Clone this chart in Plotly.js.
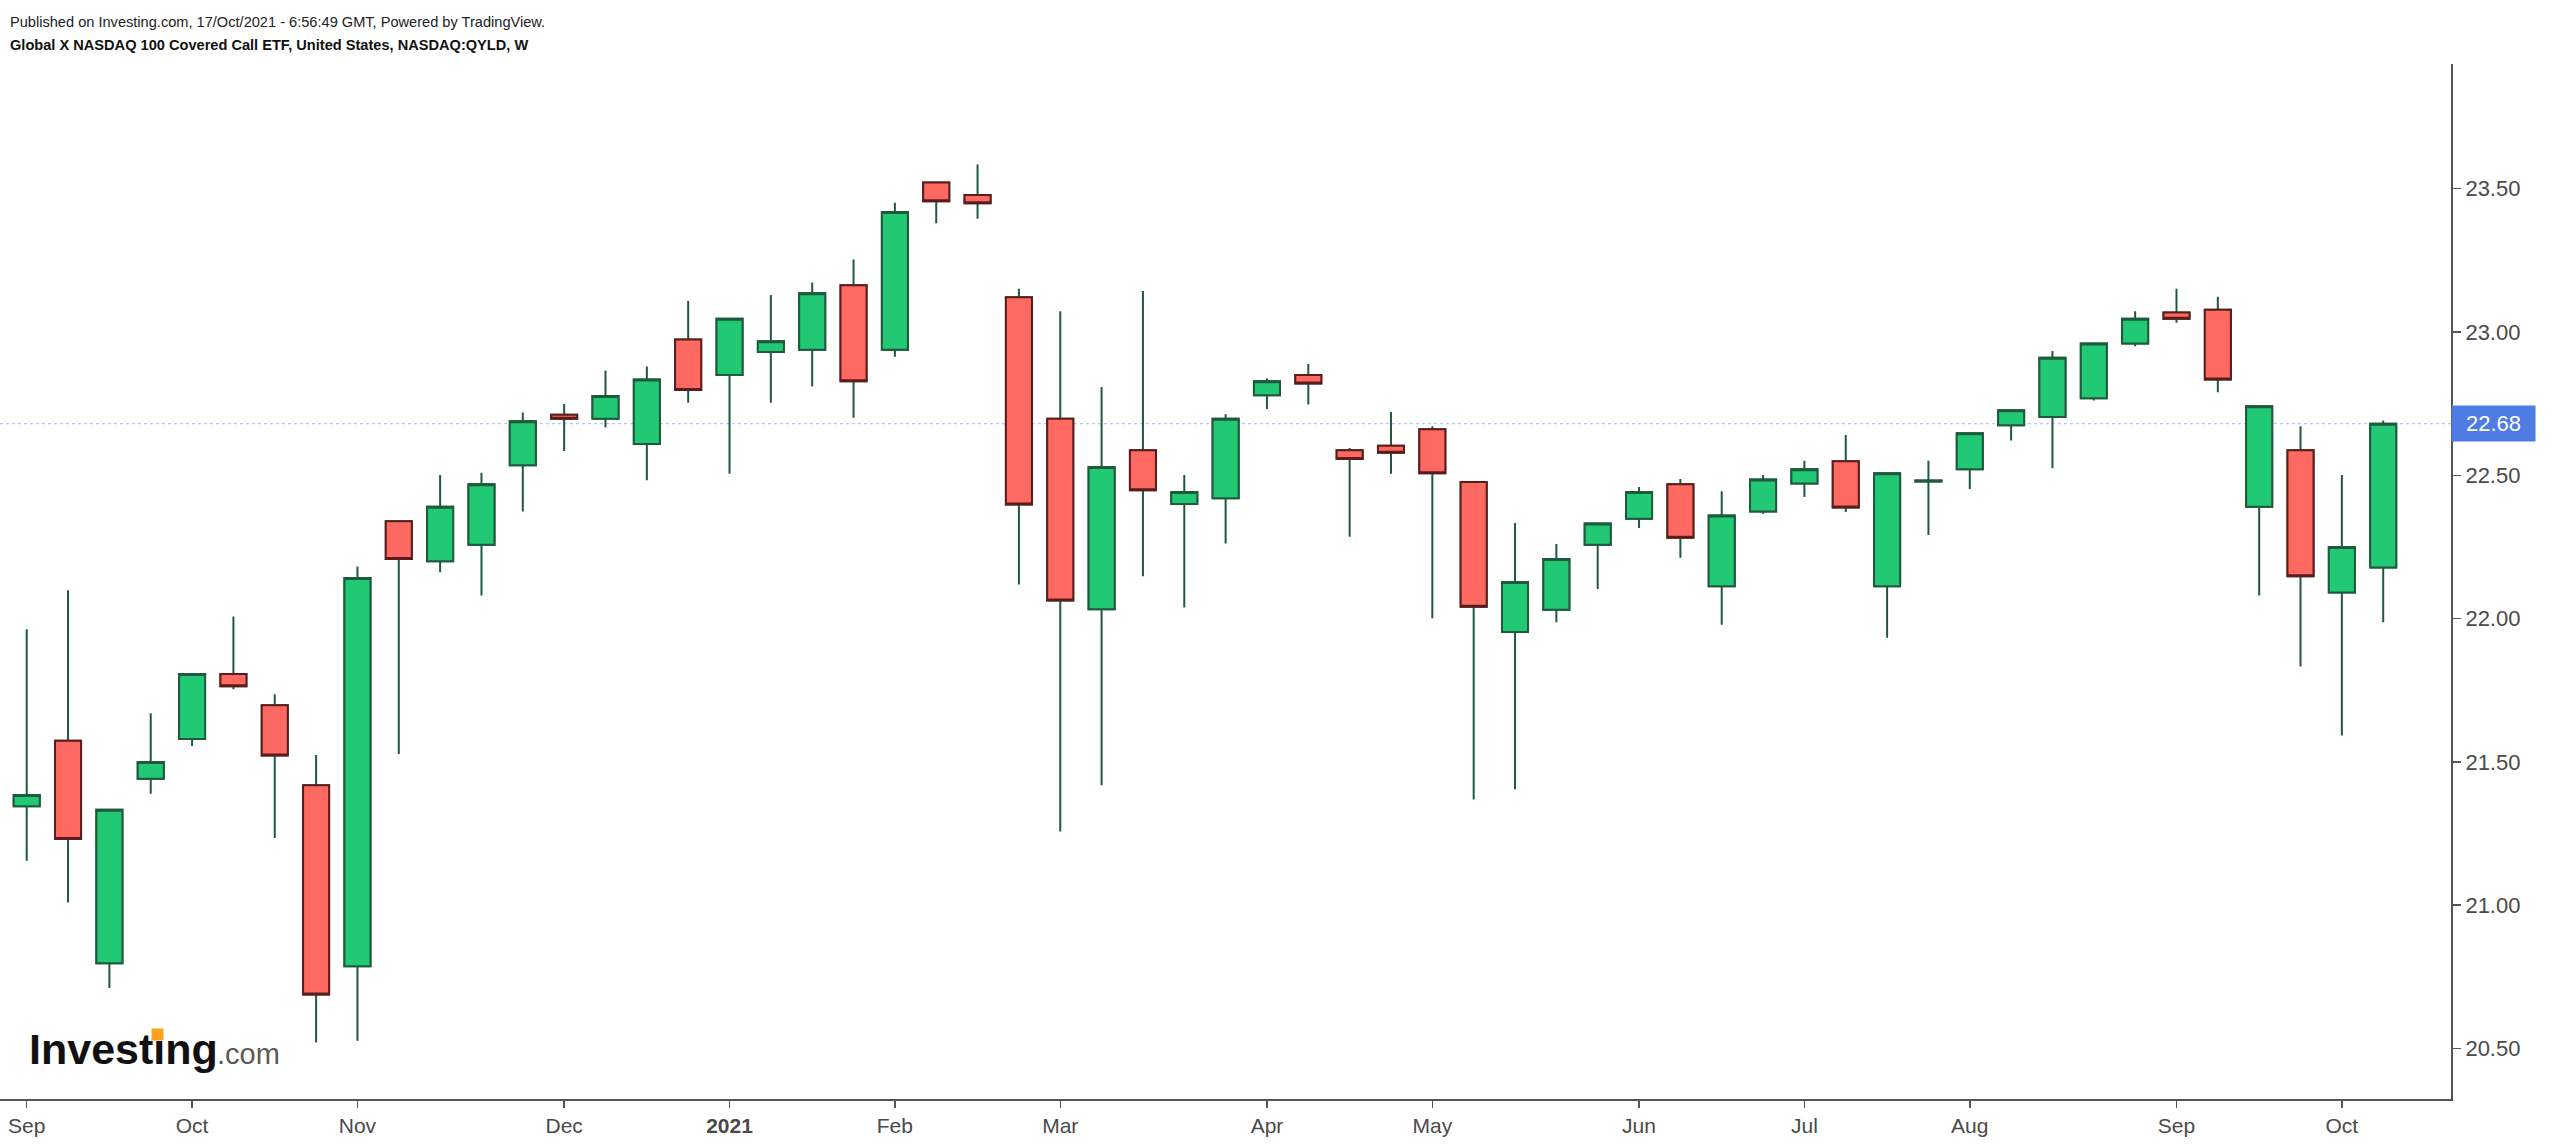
<!DOCTYPE html>
<html><head><meta charset="utf-8">
<script src="https://cdn.plot.ly/plotly-3.0.1.min.js"></script>
<style>html,body{margin:0;padding:0;background:#fff;}#chart{width:2552px;height:1144px;}</style>
</head><body><div id="chart"></div>
<script>
// Weekly candles, Global X NASDAQ 100 Covered Call ETF (QYLD)
const weeks = ['2020-09-07','2020-09-14','2020-09-21','2020-09-28','2020-10-05','2020-10-12','2020-10-19','2020-10-26',
  '2020-11-02','2020-11-09','2020-11-16','2020-11-23','2020-11-30','2020-12-07','2020-12-14','2020-12-21','2020-12-28',
  '2021-01-04','2021-01-11','2021-01-18','2021-01-25','2021-02-01','2021-02-08','2021-02-15','2021-02-22',
  '2021-03-01','2021-03-08','2021-03-15','2021-03-22','2021-03-29','2021-04-05','2021-04-12','2021-04-19','2021-04-26',
  '2021-05-03','2021-05-10','2021-05-17','2021-05-24','2021-05-31','2021-06-07','2021-06-14','2021-06-21','2021-06-28',
  '2021-07-05','2021-07-12','2021-07-19','2021-07-26','2021-08-02','2021-08-09','2021-08-16','2021-08-23','2021-08-30',
  '2021-09-06','2021-09-13','2021-09-20','2021-09-27','2021-10-04','2021-10-11'];
const opens = [21.345,21.574,20.798,21.441,21.580,21.807,21.698,21.419,
  20.787,22.340,22.200,22.258,22.535,22.711,22.697,22.609,22.974,
  22.850,22.930,22.938,23.163,22.938,23.522,23.478,23.121,
  22.697,22.033,22.587,22.400,22.420,22.779,22.850,22.587,22.603,
  22.661,22.477,21.953,22.031,22.258,22.348,22.469,22.113,22.374,
  22.471,22.549,22.113,22.478,22.521,22.675,22.703,22.769,22.960,
  23.068,23.078,22.390,22.587,22.091,22.178];
const highs = [21.963,22.099,21.333,21.670,21.807,22.007,21.736,21.524,
  22.182,22.340,22.501,22.509,22.719,22.749,22.866,22.880,23.108,
  23.046,23.129,23.173,23.253,23.451,23.522,23.584,23.151,
  23.072,22.808,23.143,22.501,22.713,22.838,22.888,22.595,22.721,
  22.671,22.477,22.334,22.260,22.332,22.459,22.487,22.444,22.501,
  22.551,22.641,22.507,22.551,22.647,22.727,22.934,22.960,23.072,
  23.151,23.123,22.741,22.671,22.501,22.691];
const lows = [21.155,21.010,20.711,21.389,21.556,21.754,21.235,20.521,
  20.527,21.528,22.162,22.081,22.374,22.585,22.667,22.483,22.753,
  22.505,22.753,22.810,22.701,22.914,23.379,23.395,22.119,
  21.257,21.419,22.148,22.039,22.262,22.731,22.747,22.286,22.505,
  22.001,21.369,21.405,21.987,22.103,22.316,22.212,21.979,22.366,
  22.424,22.372,21.933,22.292,22.452,22.621,22.525,22.761,22.950,
  23.032,22.790,22.081,21.833,21.592,21.987];
const closes = [21.385,21.231,21.333,21.500,21.807,21.764,21.522,20.689,
  22.142,22.208,22.390,22.469,22.689,22.697,22.777,22.834,22.798,
  23.046,22.968,23.135,22.828,23.419,23.456,23.449,22.398,
  22.063,22.529,22.448,22.442,22.697,22.828,22.820,22.557,22.579,
  22.507,22.041,22.128,22.208,22.332,22.442,22.282,22.360,22.485,
  22.521,22.388,22.507,22.482,22.647,22.727,22.910,22.960,23.046,
  23.046,22.834,22.741,22.148,22.250,22.680];

const tickWeeks = ['2020-09-07','2020-10-05','2020-11-02','2020-12-07','2021-01-04','2021-02-01','2021-03-01',
  '2021-04-05','2021-05-03','2021-06-07','2021-07-05','2021-08-02','2021-09-06','2021-10-04'];
const tickLabels = ['Sep','Oct','Nov','Dec','<b>2021</b>','Feb','Mar','Apr','May','Jun','Jul','Aug','Sep','Oct'];
const priceTicks = [20.5,21.0,21.5,22.0,22.5,23.0,23.5];

const headerLine1 = 'Published on Investing.com, 17/Oct/2021 - 6:56:49 GMT, Powered by TradingView.';
const headerLine2 = 'Global X NASDAQ 100 Covered Call ETF, United States, NASDAQ:QYLD, W';

// ---- layout geometry ----
const W = 2552, H = 1144, ML = 0, MR = 101, MT = 64, MB = 45;
const PW = W - ML - MR, PH = H - MT - MB;
const px = x => (x - ML) / PW;
const py = y => (H - MB - y) / PH;

const FONT = 'Liberation Sans, Arial, sans-serif';
const WICK = '#1f5a3c';
const GREEN = '#22c975', GREEN_LINE = '#1f5a3c';
const RED = '#fe6a62', RED_LINE = '#5e1b1b';

const bodyHigh = opens.map((o, i) => Math.max(o, closes[i]));
const bodyLow = opens.map((o, i) => Math.min(o, closes[i]));
const lastClose = closes[closes.length - 1];

const wickTrace = {
  type: 'candlestick', x: weeks, open: opens, high: highs, low: lows, close: closes,
  increasing: {line: {color: WICK, width: 2}, fillcolor: WICK},
  decreasing: {line: {color: WICK, width: 2}, fillcolor: WICK},
  whiskerwidth: 0, hoverinfo: 'skip', showlegend: false
};
const bodyTrace = {
  type: 'candlestick', x: weeks, open: opens, high: bodyHigh, low: bodyLow, close: closes,
  increasing: {line: {color: GREEN_LINE, width: 2}, fillcolor: GREEN},
  decreasing: {line: {color: RED_LINE, width: 2}, fillcolor: RED},
  whiskerwidth: 0, hoverinfo: 'skip', showlegend: false
};

const layout = {
  width: W, height: H,
  margin: {l: ML, r: MR, t: MT, b: MB, pad: 0},
  paper_bgcolor: '#ffffff', plot_bgcolor: '#ffffff',
  showlegend: false,
  boxgap: 0.37, boxgroupgap: 0,
  font: {family: FONT, color: '#4a4a4a'},
  xaxis: {
    type: 'category', range: [-0.646, 58.64], rangeslider: {visible: false},
    showgrid: false, zeroline: false,
    showline: true, linecolor: '#555555', linewidth: 2,
    ticks: 'outside', ticklen: 7, tickwidth: 1.5, tickcolor: '#555555',
    tickmode: 'array', tickvals: tickWeeks, ticktext: tickLabels,
    tickfont: {family: FONT, size: 21, color: '#4a4a4a'}, fixedrange: true
  },
  yaxis: {
    side: 'right', range: [20.324, 23.935],
    showgrid: false, zeroline: false,
    showline: true, linecolor: '#555555', linewidth: 2,
    ticks: 'outside', ticklen: 8, tickwidth: 1.5, tickcolor: '#555555',
    tickmode: 'array', tickvals: priceTicks, ticktext: priceTicks.map(v => v.toFixed(2)),
    tickfont: {family: FONT, size: 22, color: '#4a4a4a'}, fixedrange: true
  },
  shapes: [{
    type: 'line', xref: 'paper', x0: 0, x1: 1, yref: 'y', y0: lastClose, y1: lastClose,
    line: {color: '#a5bbf0', width: 1, dash: 'dot'}, layer: 'below'
  }],
  annotations: [
    {xref: 'paper', yref: 'y', x: 1, y: lastClose, xanchor: 'left', yanchor: 'middle',
     text: lastClose.toFixed(2), showarrow: false, bgcolor: '#4f7be4', width: 81, height: 33,
     font: {family: FONT, size: 22, color: '#ffffff'}, align: 'center'},
    {xref: 'paper', yref: 'paper', x: px(8), y: py(22), xanchor: 'left', yanchor: 'middle',
     text: headerLine1, showarrow: false, font: {family: FONT, size: 14.6, color: '#222222'}},
    {xref: 'paper', yref: 'paper', x: px(8), y: py(45), xanchor: 'left', yanchor: 'middle',
     text: '<b>' + headerLine2 + '</b>', showarrow: false, font: {family: FONT, size: 14.6, color: '#111111'}},
    {xref: 'paper', yref: 'paper', x: px(27), y: py(1049), xanchor: 'left', yanchor: 'middle',
     text: '<b>Investing</b>', showarrow: false, font: {family: FONT, size: 43, color: '#111111'}},
    {xref: 'paper', yref: 'paper', x: px(215), y: py(1054), xanchor: 'left', yanchor: 'middle',
     text: '.com', showarrow: false, font: {family: FONT, size: 29, color: '#5a5a5a'}},
    {xref: 'paper', yref: 'paper', x: px(157.5), y: py(1034.5), xanchor: 'center', yanchor: 'middle',
     text: ' ', showarrow: false, bgcolor: '#f7a21b', width: 11, height: 11, borderpad: 0,
     font: {size: 4}}
  ]
};

Plotly.newPlot('chart', [wickTrace, bodyTrace], layout, {staticPlot: true, displayModeBar: false});
</script>
</body></html>
